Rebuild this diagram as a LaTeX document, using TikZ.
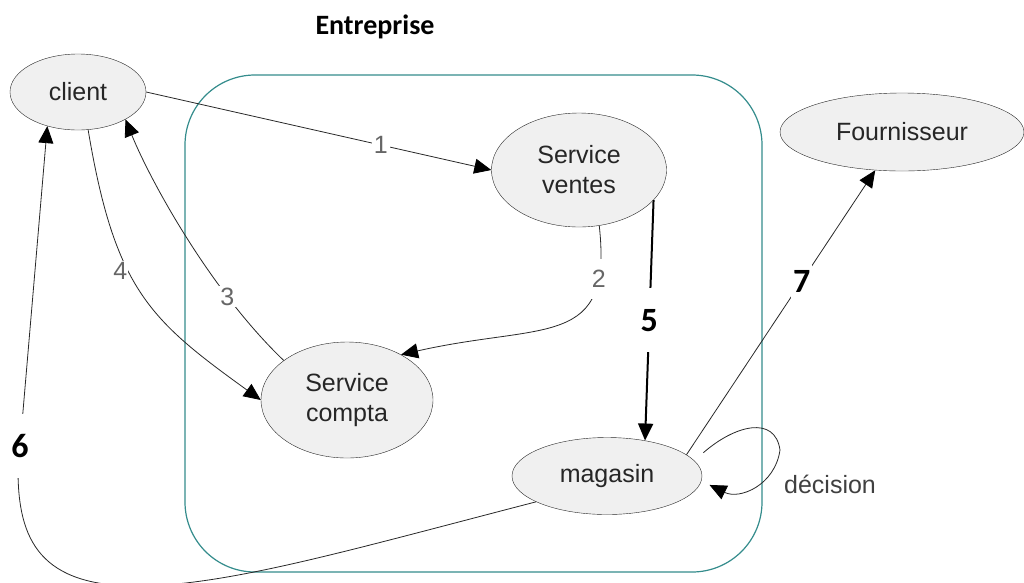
\documentclass[tikz,border=0pt]{standalone}
\usepackage{fontspec}
\setmainfont{Liberation Sans}
\newfontfamily\calibri{Carlito}
\usetikzlibrary{shapes.geometric,arrows.meta}
\definecolor{cadre}{RGB}{52,140,140}
\definecolor{trait}{RGB}{40,40,40}
\tikzset{
  etat/.style={ellipse,draw=trait,fill=black!6,inner sep=0pt,align=center,text=black!85,font=\fontsize{25}{30}\selectfont},
  fl/.style={draw=trait,line width=0.8pt,-{Triangle[length=17pt,width=15pt,color=black]}},
  num/.style={fill=white,inner sep=2pt,text=black!60,font=\fontsize{25}{30}\selectfont},
  gros/.style={fill=white,inner sep=2pt,minimum height=64pt,font=\calibri\bfseries\fontsize{34}{40}\selectfont},
}
\begin{document}
\begin{tikzpicture}[x=1pt,y=-1pt]
\useasboundingbox (0,0) rectangle (1024,582);
\node[font=\calibri\bfseries\fontsize{28}{32}\selectfont] (titre) at (375,27) {Entreprise};
\draw[cadre,line width=1.2pt,rounded corners=70pt] (185,75) rectangle (762,572);

\node[etat,minimum width=136pt,minimum height=76pt] (client) at (78,92) {client};
\node[etat,minimum width=175pt,minimum height=114pt] (ventes) at (579,170) {Service\\ventes};
\node[etat,minimum width=172pt,minimum height=116pt] (compta) at (347,400) {Service\\compta};
\node[etat,minimum width=190pt,minimum height=77pt] (magasin) at (607,476) {magasin};
\node[etat,minimum width=244pt,minimum height=78pt] (fournisseur) at (902,132) {Fournisseur};
\node[text=black!75,font=\fontsize{25}{30}\selectfont] (decision) at (830,484) {décision};

\draw[fl] (client.east) -- node[num,pos=.68]{1} (ventes.west);
\draw[fl] (ventes.-70) .. controls (613,350) and (545,322) .. node[num,pos=.18,minimum height=40pt]{2} (compta.40);
\draw[fl] (compta.148) .. controls (210,290) and (150,180) .. node[num,pos=.27]{3} (client.-30);
\draw[fl] (client.-75) .. controls (115,290) and (150,320) .. node[num,pos=.4,left,inner sep=1pt]{4} (compta.west);
\draw[fl,draw=black,line width=2pt] (ventes.-22) -- node[gros]{5} (magasin.43);
\draw[fl] (magasin.200) .. controls (350,550) and (230,585) .. (140,586)
  .. controls (40,587) and (18,540) .. (18,470) -- node[gros,pos=.07]{6} (client.-132);
\draw[fl] (magasin.15) -- node[gros,pos=.61]{7} (fournisseur.-125);
\draw[fl,shorten <=12pt,shorten >=9pt] (magasin.10) .. controls (735,425) and (775,415) .. (780,450)
  .. controls (775,485) and (740,500) .. (magasin.-3);
\end{tikzpicture}
\end{document}
